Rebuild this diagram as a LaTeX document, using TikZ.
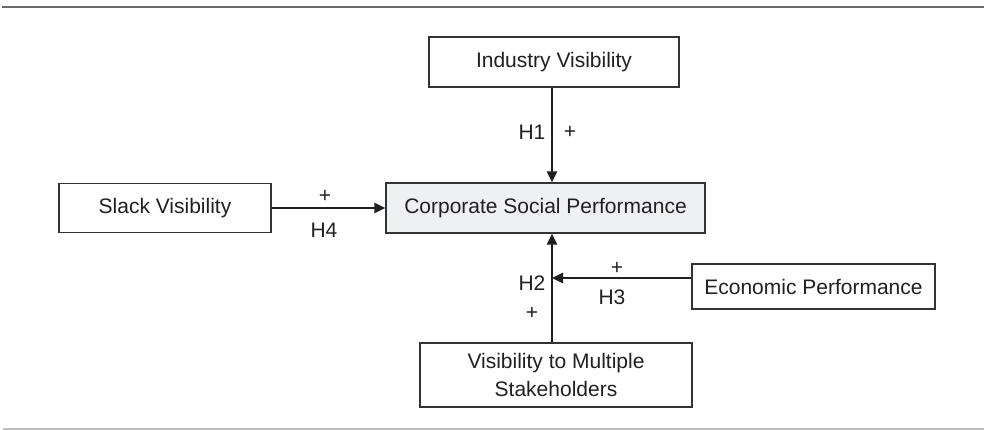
\documentclass[tikz,border=0pt]{standalone}
\usepackage{fontspec}
\setmainfont{Liberation Sans}
\usetikzlibrary{arrows.meta, shadows}
\definecolor{boxline}{RGB}{51, 51, 51}
\definecolor{boxfill}{RGB}{239, 240, 242}
\definecolor{arrowcolor}{RGB}{35, 31, 32}
\definecolor{topline}{RGB}{105, 105, 105}
\definecolor{bottomline}{RGB}{190, 190, 190}

\begin{document}
\begin{tikzpicture}[
  x = 1pt, y = -1pt,
  font = \fontsize{21}{27.5}\selectfont,
  text = arrowcolor,
  box/.style = {
    rectangle,
    draw = boxline,
    fill = white,
    line width = 1.3pt,
    align = center,
    inner sep = 0pt,
    drop shadow = {shadow xshift=1pt, shadow yshift=-1pt, fill=black, opacity=.4}
  },
  arrow/.style = {
    -{Triangle[length=11pt, width=10pt]},
    draw = arrowcolor,
    line width = 2.5pt
  },
  sign/.style = {
    inner sep = 0pt
  }
]
\useasboundingbox (0,0) rectangle (984,430);

% Rules
\draw[topline, line width=2pt] (2,6.7) -- (984,6.7);
\draw[bottomline, line width=1.5pt] (3,429) -- (984,429);

% Nodes
\node[box, fill=boxfill, minimum width=319pt, minimum height=50pt] (csp) at (545.5,208) {Corporate Social Performance};
\node[box, minimum width=250pt, minimum height=50pt] (industry) at (554,62) {Industry Visibility};
\node[box, minimum width=212pt, minimum height=49pt] (slack) at (165,208) {Slack Visibility};
\node[box, minimum width=243pt, minimum height=45pt] (economic) at (813.5,286.5) {Economic Performance};
\node[box, minimum width=272pt, minimum height=64pt] (stakeholders) at (556,375) {Visibility to Multiple\\Stakeholders};
\coordinate (hub) at (552,278);

% Arrows
\draw[arrow] (industry.south -| hub) -- (csp.north -| hub);
\draw[arrow] (slack.east) -- (csp.west);
\draw[arrow] (stakeholders.north -| hub) -- (csp.south -| hub);
\draw[arrow] (economic.west |- hub) -- (hub);

% Labels
\node[sign] (h1) at (532,132) {H1};
\node[sign] (h1sign) at (570,132) {+};
\node[sign] (h2) at (532,283) {H2};
\node[sign] (h2sign) at (532,313) {+};
\node[sign] (h3sign) at (617,268) {+};
\node[sign] (h3) at (612,297) {H3};
\node[sign] (h4sign) at (325,196) {+};
\node[sign] (h4) at (324,230) {H4};

\end{tikzpicture}
\end{document}
